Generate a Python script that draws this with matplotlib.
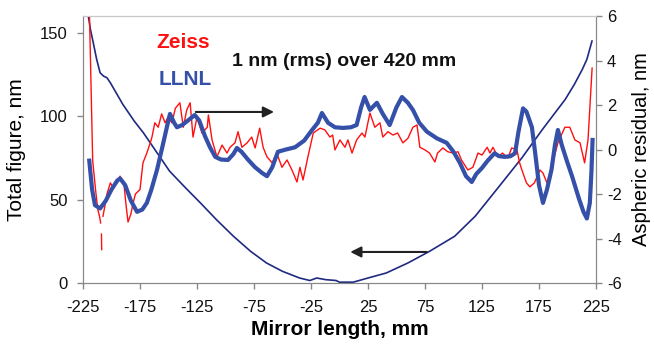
import numpy as np
import matplotlib
matplotlib.use('Agg')
import matplotlib.pyplot as plt

plt.rcParams['font.family'] = ['Liberation Sans', 'DejaVu Sans']
plt.rcParams['axes.unicode_minus'] = False

# total figure (left axis, nm)
total_x = [-221, -218.5, -216, -213, -210, -207, -204, -201, -190, -180, -172, -160, -149, -135,
           -122, -108, -93, -78, -64, -50, -35, -26, -20, -12, -3, 0, 12, 25, 41,
           60, 79, 101, 119, 139, 160, 178, 198, 206, 213, 217, 221.5]
total_y = [163, 152, 144, 134, 126, 124, 123, 120, 107, 97, 90, 78, 67, 57,
           48, 38, 28, 19, 12, 7, 3, 1.5, 3, 2, 1.5, 0.5, 0.5, 3, 6,
           12, 19, 28, 40, 57, 75, 92, 110, 119, 128, 134, 145]

# LLNL aspheric residual (right axis, nm)
llnl_x = [-219.5, -217, -214.5, -210, -205, -200, -195, -192.5, -188, -183, -177.6, -173,
          -169, -165, -160, -155, -151, -148.7, -145, -142.6, -138, -133, -127, -123,
          -118, -113.6, -109, -104, -97.8, -93, -90, -86, -80, -74, -68, -63.6, -59,
          -54, -47, -39, -31, -24, -19, -15.4, -10, -4, 3, 10, 15, 19, 22, 26.7, 32.8,
          38, 44, 50, 54.8, 60, 64.4, 70, 76.7, 85.5, 94, 100, 105.6, 111, 116, 120,
          125, 130, 136, 140, 145, 150, 154, 157, 161, 164, 168.8, 172, 175, 178.5,
          182, 186, 189, 191.6, 195, 200, 204, 210, 214, 217, 219.6, 221, 222]
llnl_y = [-0.5, -1.8, -2.5, -2.65, -2.3, -1.8, -1.4, -1.3, -1.6, -2.3, -2.8, -2.7,
          -2.4, -1.8, -0.9, 0.2, 1.1, 1.6, 1.2, 1.0, 1.1, 1.3, 1.55, 1.3,
          0.6, 0.1, -0.33, -0.45, -0.47, -0.2, 0.07, -0.1, -0.47, -0.8, -1.05, -1.2, -0.8,
          -0.1, 0.0, 0.1, 0.4, 0.88, 1.2, 1.64, 1.2, 1.0, 0.97, 1.0, 1.1, 1.9, 2.36, 1.78, 2.1,
          1.6, 1.1, 1.9, 2.36, 2.1, 1.78, 1.2, 0.8, 0.5, 0.3, -0.1, -0.6, -1.2, -1.46, -1.1,
          -0.83, -0.5, -0.17, -0.3, -0.33, -0.3, -0.17, 0.8, 1.85, 1.7, 1.0, -0.3, -1.6, -2.4,
          -1.8, -0.9, 0.2, 0.88, 0.2, -0.6, -1.2, -2.2, -2.8, -3.1, -2.4, -1.0, 0.43]

# Zeiss aspheric residual (right axis, nm), nan = gap in the trace
zeiss_x = [-219.5, -218, -216.5, -214, -212, -210.5, -209.5, np.nan, -208.8, -208.6, np.nan,
           -207.5, -206, -204, -201, -198.7, -195, -192.5, -189, -187, -185.5, -183, -181,
           -179, -175, -172.4, -169, -166, -164.5, -162, -159, -156, -153, -150.5, -147,
           -144, -140, -137, -134, -131, -128.5, -125, -120.6, -116, -115, -111.8, -107.5,
           -103, -98.7, -96, -91.7, -89, -85.6, -81, -77, -74, -70, -67, -63.6, -59, -55,
           -50.5, -46, -41.7, -37.3, -34.7, -32, -27.7, -23, -17, -12.8, -8.4, -6, -4, 0.4,
           4.8, 7.4, 11, 15, 19.7, 22.3, 26.7, 31, 35.5, 38, 42.5, 46.9, 51, 55.6, 60, 64.4,
           68, 70.5, 75, 79, 83.7, 86, 90.7, 95, 99.5, 104, 107, 112.6, 117, 121.5, 125,
           129.5, 132, 134.6, 139, 143, 147.8, 151, 155.6, 158, 160, 164, 167, 171, 175.8,
           178.5, 182, 186, 191.6, 197.7, 202, 206.5, 211, 215, 218, 221.6]
zeiss_y = [6.5, 3.0, -0.5, -1.8, -2.7, -3.0, -3.3, np.nan, -3.8, -4.5, np.nan,
           -3.0, -2.6, -2.0, -1.5, -1.7, -1.5, -1.2, -1.6, -2.6, -3.26, -2.9, -2.4,
           -2.0, -1.8, -0.6, -0.16, 0.3, 0.56, 1.2, 1.0, 1.6, 1.2, 1.45, 1.2,
           1.85, 2.1, 1.0, 1.78, 2.1, 0.56, 1.45, 0.74, 1.0, 1.55, 0.43, -0.33,
           0.2, -0.16, 0.1, 0.3, 0.8, 0.1, 0.3, 0.56, 0.07, 0.96, 0.1, -0.33, -0.6, -0.16,
           -0.8, -0.47, -0.92, -1.46, -0.8, -1.37, -0.33, 0.74, 0.96, 0.88, 0.56, 0.65, -0.02, 0.43,
           0.1, 0.43, -0.16, 0.43, 0.74, 0.56, 1.64, 1.0, 1.2, 0.56, 0.8, 0.65, 0.74, 0.3, 0.5, 1.0,
           1.1, 0.1, -0.02, -0.16, -0.56, -0.16, 0.07, -0.1, -0.16, -0.1, -0.47, -0.92, -0.8, -0.16, -0.25,
           0.1, -0.16, 0.1, -0.33, -0.16, -0.38, 0.07, 0.0, -0.6, -0.92, -1.5, -1.68, -1.5, -0.92,
           -1.06, -1.5, -0.8, 0.3, 1.0, 1.0, 0.43, 0.3, -0.6, 0.43, 3.66]

x_ticks = [-225, -175, -125, -75, -25, 25, 75, 125, 175, 225]

fig = plt.figure(figsize=(6.54, 3.51), dpi=100)
ax = fig.add_axes([0.1269, 0.1937, 0.7844, 0.7607])
ax2 = ax.twinx()

ax.plot(total_x, total_y, color='#1f2a80', lw=1.2)
ax2.plot(zeiss_x, zeiss_y, color='#ff1010', lw=1.0)
ax2.plot(llnl_x, llnl_y, color='#3550a8', lw=3.0, solid_joinstyle='round')

ax.set_xlim(-225, 225)
ax.set_ylim(0, 160)
ax2.set_ylim(-6, 6)
ax.set_xticks(x_ticks)
ax.set_yticks([0, 50, 100, 150])
ax2.set_yticks([-6, -4, -2, 0, 2, 4, 6])

for a in (ax, ax2):
    for side in ('left', 'right', 'bottom'):
        a.spines[side].set_color('#888888')
    a.spines['top'].set_color('#c8c8c8')
    a.tick_params(colors='#888888', labelcolor='#111111', labelsize=12,
                  length=4, width=1)
ax.tick_params(axis='y', pad=7)
ax.tick_params(axis='x', pad=8)
ax2.tick_params(axis='y', pad=4)

ax.set_xlabel('Mirror length, mm', fontsize=15, fontweight='bold', labelpad=4)
ax.set_ylabel('Total figure, nm', fontsize=15, labelpad=10)
ax2.set_ylabel('Aspheric residual, nm', fontsize=14.5, labelpad=7)

ax.text(-137, 144, 'Zeiss', color='#ff1010', fontsize=15, fontweight='bold',
        ha='center', va='center')
ax.text(-135, 122, 'LLNL', color='#3550a8', fontsize=15, fontweight='bold',
        ha='center', va='center')
ax.text(4, 133, '1 nm (rms) over 420 mm', color='#111111', fontsize=14,
        fontweight='bold', ha='center', va='center')

arrow = dict(arrowstyle='-|>', color='#222222', lw=1.5, mutation_scale=16)
ax.annotate('', xy=(-55, 102.5), xytext=(-128.5, 102.5), arrowprops=arrow)
ax.annotate('', xy=(7, 18.6), xytext=(79, 18.6), arrowprops=arrow)

fig.savefig('out.png', dpi=100)
